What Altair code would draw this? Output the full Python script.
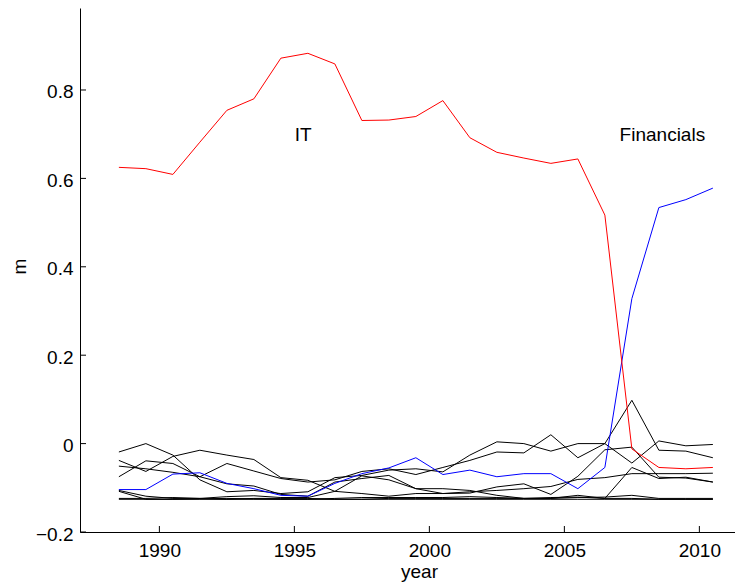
import altair as alt
import pandas as pd

# x positions of the yearly observations
years = [1988.5, 1989.5, 1990.5, 1991.5, 1992.5, 1993.5, 1994.5, 1995.5, 1996.5, 1997.5,
         1998.5, 1999.5, 2000.5, 2001.5, 2002.5, 2003.5, 2004.5, 2005.5, 2006.5, 2007.5,
         2008.5, 2009.5, 2010.5]

it_vals = [0.625, 0.622, 0.609, 0.682, 0.754, 0.780, 0.872, 0.883, 0.859, 0.731,
           0.732, 0.740, 0.776, 0.692, 0.659, 0.646, 0.634, 0.644, 0.517, -0.012,
           -0.054, -0.057, -0.054]

fin_vals = [-0.104, -0.104, -0.069, -0.066, -0.090, -0.102, -0.117, -0.119, -0.090, -0.068,
            -0.055, -0.032, -0.070, -0.060, -0.075, -0.068, -0.068, -0.102, -0.054, 0.328,
            0.534, 0.552, 0.578]

other_1 = [-0.019, 0.0, -0.026, -0.082, -0.109, -0.106, -0.113, -0.109, -0.077, -0.072,
           -0.060, -0.057, -0.064, -0.026, 0.004, 0.0, -0.017, 0.0, 0.0, -0.044,
           0.006, -0.005, -0.002]
other_2 = [-0.051, -0.057, -0.065, -0.075, -0.045, -0.062, -0.079, -0.087, -0.082, -0.063,
           -0.057, -0.070, -0.054, -0.038, -0.019, -0.021, 0.020, -0.032, 0.0, 0.098,
           -0.015, -0.017, -0.032]
other_3 = [-0.038, -0.063, -0.029, -0.015, -0.026, -0.036, -0.077, -0.083, -0.108, -0.073,
           -0.082, -0.102, -0.102, -0.106, -0.117, -0.124, -0.124, -0.117, -0.124, -0.054,
           -0.079, -0.076, -0.087]
other_4 = [-0.075, -0.039, -0.045, -0.075, -0.091, -0.096, -0.115, -0.119, -0.087, -0.079,
           -0.072, -0.102, -0.113, -0.112, -0.098, -0.091, -0.115, -0.074, -0.014, -0.008,
           -0.076, -0.078, -0.087]
other_5 = [-0.106, -0.119, -0.124, -0.124, -0.120, -0.118, -0.122, -0.122, -0.108, -0.113,
           -0.119, -0.113, -0.113, -0.109, -0.106, -0.102, -0.097, -0.081, -0.077, -0.068,
           -0.068, -0.068, -0.067]
other_6 = [-0.108, -0.126, -0.126, -0.125, -0.124, -0.125, -0.126, -0.126, -0.124, -0.122,
           -0.122, -0.122, -0.122, -0.120, -0.122, -0.124, -0.124, -0.122, -0.121, -0.117,
           -0.124, -0.124, -0.124]
other_7 = [-0.124, -0.124, -0.122, -0.124, -0.126, -0.124, -0.124, -0.124, -0.126, -0.126,
           -0.124, -0.124, -0.124, -0.124, -0.124, -0.124, -0.122, -0.121, -0.124, -0.124,
           -0.126, -0.126, -0.126]
other_8 = [-0.126, -0.126, -0.126, -0.126, -0.126, -0.126, -0.126, -0.126, -0.126, -0.126,
           -0.126, -0.126, -0.126, -0.126, -0.126, -0.126, -0.126, -0.126, -0.126, -0.126,
           -0.126, -0.126, -0.126]

others = [other_1, other_2, other_3, other_4, other_5, other_6, other_7, other_8]

y_ticks = [-0.2, 0.0, 0.2, 0.4, 0.6, 0.8]
x_ticks = [1990, 1995, 2000, 2005, 2010]

labels = ["IT", "Financials"]
label_year = [1995.33, 2008.63]
label_m = [0.699, 0.699]

# ---- tables ----
black_rows = []
for k, vals in enumerate(others):
    for yr, v in zip(years, vals):
        black_rows.append({"year": yr, "m": v, "series": f"s{k}"})
black_df = pd.DataFrame(black_rows)
it_df = pd.DataFrame({"year": years, "m": it_vals})
fin_df = pd.DataFrame({"year": years, "m": fin_vals})
yt_df = pd.DataFrame({"m": y_ticks})
xt_df = pd.DataFrame({"year": x_ticks})
lab_df = pd.DataFrame({"year": label_year, "m": label_m, "text": labels})

FONT = "Liberation Sans"
FS = 19
W, H = 655, 524

xs = alt.Scale(domain=[1987.06, 2011.32], nice=False, zero=False)
ys = alt.Scale(domain=[-0.2, 0.9855], nice=False, zero=False)

x_axis = alt.Axis(values=x_ticks, format="d", ticks=False, tickSize=0, grid=False,
                  labelPadding=9, title="year", titleX=339, titleY=45.5,
                  titleBaseline="alphabetic", titleAlign="center")
y_axis = alt.Axis(values=y_ticks, format=".1~f", ticks=False, tickSize=0, grid=False,
                  labelPadding=7, labelOffset=2, title="m", titleX=-61, titleY=258,
                  titleAngle=270, titleAlign="center", titleBaseline="middle")

X = alt.X("year:Q", scale=xs, axis=x_axis)
Y = alt.Y("m:Q", scale=ys, axis=y_axis)

black = alt.Chart(black_df).mark_line(color="black", strokeWidth=1).encode(
    x=X, y=Y, detail="series:N",
)
blue = alt.Chart(fin_df).mark_line(color="#0000ff", strokeWidth=1).encode(x=X, y=Y)
red = alt.Chart(it_df).mark_line(color="#ff0000", strokeWidth=1).encode(x=X, y=Y)
ytick = alt.Chart(yt_df).mark_rule(color="black", strokeWidth=1).encode(
    y=Y, x=alt.value(0), x2=alt.value(6),
)
xtick = alt.Chart(xt_df).mark_rule(color="black", strokeWidth=1).encode(
    x=X, y=alt.value(H), y2=alt.value(H - 6),
)
texts = alt.Chart(lab_df).mark_text(font=FONT, fontSize=FS, color="black",
                                    align="center", baseline="middle").encode(
    x=X, y=Y, text="text:N",
)

chart = alt.layer(black, blue, red, ytick, xtick, texts).properties(
    width=W, height=H,
    autosize=alt.AutoSizeParams(type="none"),
    padding={"left": 72, "top": 0, "right": 0, "bottom": 50},
).configure_view(stroke=None).configure_axis(
    domainColor="black", domainWidth=1,
    labelFont=FONT, labelFontSize=FS, labelColor="black",
    titleFont=FONT, titleFontSize=FS, titleFontWeight="normal", titleColor="black",
)

chart.save("out.html", embed_options={"renderer": "svg", "actions": False})
